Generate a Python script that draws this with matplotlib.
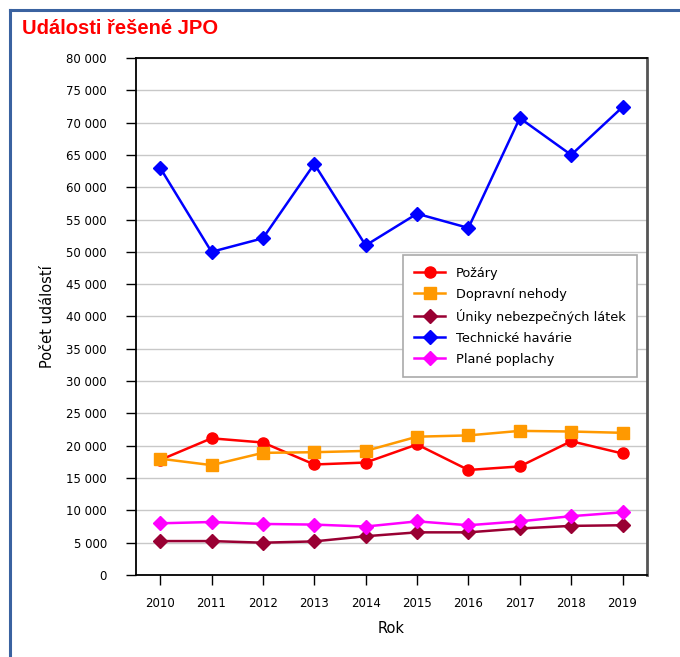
import matplotlib.pyplot as plt
from matplotlib.lines import Line2D
from matplotlib.ticker import FuncFormatter

roky = [2010, 2011, 2012, 2013, 2014, 2015, 2016, 2017, 2018, 2019]
pozary = [17800, 21150, 20500, 17100, 17400, 20200, 16250, 16800, 20700, 18800]
dopravni = [18000, 17000, 18900, 19000, 19200, 21400, 21600, 22300, 22200, 22000]
uniky = [5250, 5250, 5000, 5200, 6000, 6600, 6600, 7200, 7600, 7700]
technicke = [63000, 50000, 52100, 63600, 51000, 55900, 53700, 70700, 65000, 72400]
plane = [8000, 8200, 7900, 7800, 7500, 8300, 7700, 8300, 9100, 9700]

plt.rcParams['font.family'] = ['DejaVu Sans']

fig = plt.figure(figsize=(6.8, 6.57), dpi=100)
ax = fig.add_axes([0.2, 0.1248, 0.751, 0.787])

# modry ramecek vlevo a nahore
fig.add_artist(Line2D([0.014, 1.0], [0.985, 0.985], color='#3a62a0', lw=2.2))
fig.add_artist(Line2D([0.014, 0.014], [0.0, 0.985], color='#3a62a0', lw=2.2))

fig.text(0.032, 0.957, 'Události řešené JPO', color='#ff0000', fontsize=14.5,
         fontweight='bold', family='Liberation Sans', va='center')

ax.plot(roky, pozary, '-o', color='#ff0000', lw=1.8, ms=8, label='Požáry')
ax.plot(roky, dopravni, '-s', color='#ff9900', lw=1.8, ms=8, label='Dopravní nehody')
ax.plot(roky, uniky, '-D', color='#990033', lw=1.8, ms=7, label='Úniky nebezpečných látek')
ax.plot(roky, technicke, '-D', color='#0000ff', lw=1.8, ms=7, label='Technické havárie')
ax.plot(roky, plane, '-D', color='#ff00ff', lw=1.8, ms=7, label='Plané poplachy')

ax.set_ylim(0, 80000)
ax.set_xlim(2010 - 0.47, 2019 + 0.47)
ax.set_yticks(range(0, 80001, 5000))
ax.set_xticks(roky)
ax.yaxis.set_major_formatter(FuncFormatter(lambda v, p: f'{int(v):,}'.replace(',', ' ')))
ax.tick_params(labelsize=8.5, length=7, width=1, direction='out')
ax.tick_params(axis='y', pad=14)
ax.tick_params(axis='x', pad=9)
ax.grid(axis='y', color='#c8c8c8', lw=1)
ax.set_axisbelow(True)
for s in ax.spines.values():
    s.set_linewidth(1.3)
ax.spines['right'].set_color('#555555')
ax.spines['right'].set_linewidth(2)

ax.set_xlabel('Rok', fontsize=10.5, labelpad=8)
ax.set_ylabel('Počet událostí', fontsize=10.5, labelpad=8)

leg = ax.legend(loc='upper left', bbox_to_anchor=(0.5225, 0.619), borderaxespad=0,
                fontsize=9.3, fancybox=False, edgecolor='#aaaaaa', framealpha=1,
                handlelength=2.4, borderpad=0.9, labelspacing=0.62)
leg.get_frame().set_linewidth(1.2)

fig.savefig('out.png', dpi=100)
